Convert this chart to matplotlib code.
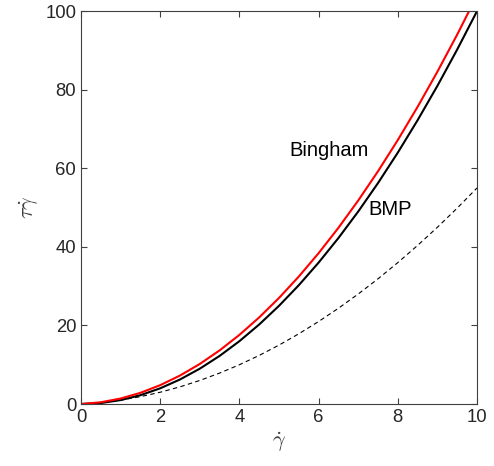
import matplotlib
matplotlib.use("Agg")
import matplotlib.pyplot as plt

plt.rcParams['font.family'] = ['Liberation Sans', 'DejaVu Sans']
plt.rcParams['mathtext.fontset'] = 'cm'

gamma_dot = [0, 0.5, 1, 1.5, 2, 2.5, 3, 3.5, 4, 4.5, 5, 5.5, 6, 6.5, 7, 7.5, 8, 8.5, 9, 9.5, 10]
bingham = [0, 0.45, 1.4, 2.85, 4.8, 7.25, 10.2, 13.65, 17.6, 22.05, 27, 32.45, 38.4, 44.85,
           51.8, 59.25, 67.2, 75.65, 84.6, 94.05, 104]
bmp = [0, 0.25, 1, 2.25, 4, 6.25, 9, 12.25, 16, 20.25, 25, 30.25, 36, 42.25, 49, 56.25,
       64, 72.25, 81, 90.25, 100]
dashed = [0, 0.375, 1, 1.875, 3, 4.375, 6, 7.875, 10, 12.375, 15, 17.875, 21, 24.375, 28,
          31.875, 36, 40.375, 45, 49.875, 55]

xticks = [0, 2, 4, 6, 8, 10]
yticks = [0, 20, 40, 60, 80, 100]

fig = plt.figure(figsize=(4.94, 4.66), dpi=100)
ax = fig.add_axes([0.164, 0.133, 0.8016, 0.843])

ax.plot(gamma_dot, dashed, color='black', lw=0.8, linestyle=(0, (4, 3)))
ax.plot(gamma_dot, bmp, color='black', lw=1.5)
ax.plot(gamma_dot, bingham, color='red', lw=1.5)

ax.set_xlim(0, 10)
ax.set_ylim(0, 100)
ax.set_xticks(xticks)
ax.set_yticks(yticks)

axc = '#404040'
for s in ax.spines.values():
    s.set_color(axc)
    s.set_linewidth(0.8)
ax.tick_params(direction='in', length=4, width=0.8, color=axc, labelcolor='#262626',
               labelsize=13.3, top=True, right=True)

ax.text(6.27, 64.6, 'Bingham', fontsize=14.5, ha='center', va='center', color='black')
ax.text(7.8, 49.4, 'BMP', fontsize=14.5, ha='center', va='center', color='black')

ax.set_xlabel(r'$\dot{\gamma}$', fontsize=16, color='#404040', labelpad=3)
ax.set_ylabel(r'$\tau\dot{\gamma}$', fontsize=16, color='#404040', labelpad=3)

fig.savefig('out.png', dpi=100)
